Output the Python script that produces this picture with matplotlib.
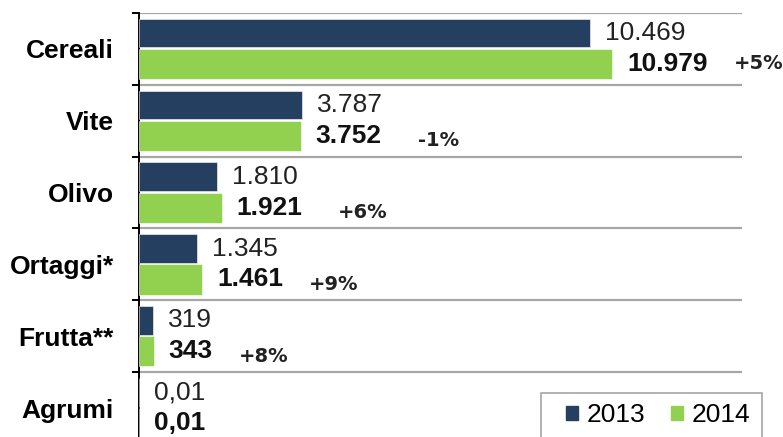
import matplotlib.pyplot as plt
from matplotlib.patches import Patch, Rectangle
import numpy as np

categories = ["Cereali", "Vite", "Olivo", "Ortaggi*", "Frutta**", "Agrumi"]
values_2013 = [10469, 3787, 1810, 1345, 319, 0.01]
values_2014 = [10979, 3752, 1921, 1461, 343, 0.01]
changes = ["+5%", "-1%", "+6%", "+9%", "+8%", ""]

# layout tweaks for the % labels (pixels): gap after the 2014 value, vertical shift
pct_gap = [26, 36, 35, 26, 26, 0]
pct_dy = [0, -5, -5, -5, -5, 0]

navy = "#243f60"
green = "#92d050"
grid_gray = "#a6a6a6"


def fmt(v):
    # italian number format
    if v < 1:
        return ("%.2f" % v).replace(".", ",")
    return "{:,.0f}".format(v).replace(",", ".")


plt.rcParams["font.family"] = ["Liberation Sans", "DejaVu Sans"]
px = 72 / 100  # points per pixel

fig = plt.figure(figsize=(7.83, 4.37), dpi=100)
ax = fig.add_axes([139 / 783, 0, (742 - 139) / 783, 424 / 437])

y = np.arange(len(categories))
ax.barh(y - 0.22, values_2013, height=0.40, color=navy, edgecolor="white", linewidth=0.4, zorder=3)
ax.barh(y + 0.21, values_2014, height=0.42, color=green, edgecolor="white", linewidth=0.4, zorder=3)

ax.set_xlim(0, 14000)
ax.set_ylim(len(categories) - 0.5 - 7 / 72, -0.5)

# separators between categories
bounds = np.arange(len(categories)) - 0.5
ax.hlines(bounds, 0, 14000, color=grid_gray, linewidth=1.6, zorder=2)

for i in range(len(categories)):
    ax.annotate(fmt(values_2013[i]), xy=(values_2013[i], i - 0.22), xytext=(15 * px, 0),
                textcoords="offset points", va="center", ha="left", fontsize=19, color="#222222")
    t = ax.annotate(fmt(values_2014[i]), xy=(values_2014[i], i + 0.21), xytext=(15 * px, 0),
                    textcoords="offset points", va="center", ha="left", fontsize=19,
                    fontweight="bold", color="#111111")
    if changes[i]:
        ax.annotate(changes[i], xy=(1, 0.5), xycoords=t, xytext=(pct_gap[i] * px, pct_dy[i] * px),
                    textcoords="offset points", va="center", ha="left", fontsize=14,
                    fontweight="bold", family="DejaVu Sans", color="#222222")

ax.set_yticks(bounds)
ax.set_yticklabels([])
ax.set_yticks(y, minor=True)
ax.set_yticklabels(categories, minor=True, fontsize=19, fontweight="bold")
ax.tick_params(axis="y", which="major", length=5, width=1.4, direction="out")
ax.tick_params(axis="y", which="minor", length=0, pad=18)
ax.set_xticks([])

for side in ["top", "right", "bottom"]:
    ax.spines[side].set_visible(False)
ax.spines["left"].set_linewidth(1.4)
ax.spines["left"].set_color("black")

# legend box runs off the bottom edge like in the original
fig.patches.append(Rectangle((541 / 783, -0.02), (762 - 541) / 783, (437 - 393) / 437 + 0.02,
                             transform=fig.transFigure, facecolor="white", edgecolor=grid_gray,
                             linewidth=1.2, zorder=5))
handles = [Patch(color=navy, label="2013"), Patch(color=green, label="2014")]
leg = fig.legend(handles=handles, loc="center left", bbox_to_anchor=(566 / 783, 22 / 437),
                 ncol=2, frameon=False, fontsize=19, borderpad=0, borderaxespad=0,
                 handlelength=0.45, handleheight=0.45, handletextpad=0.35, columnspacing=0.95)
leg.set_zorder(6)

fig.savefig("out.png", dpi=100)
